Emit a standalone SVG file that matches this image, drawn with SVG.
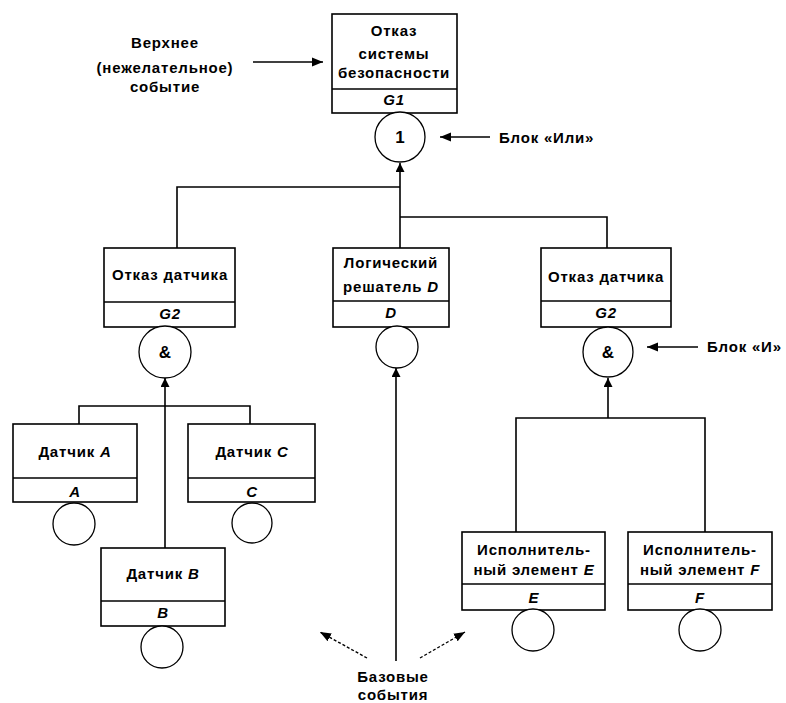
<svg xmlns="http://www.w3.org/2000/svg" width="786" height="703" viewBox="0 0 786 703">
<defs>
<style>
.box{fill:#fff;stroke:#000;stroke-width:1.6}
.gate{fill:#fff;stroke:#000;stroke-width:1.3}
.ln{fill:none;stroke:#000;stroke-width:1.6}
.dash{fill:none;stroke:#000;stroke-width:1.4;stroke-dasharray:3 2}
text{font-family:"Liberation Sans",Arial,sans-serif;font-size:15px;font-weight:bold;letter-spacing:0.8px;text-anchor:middle;fill:#000}
.it{font-style:italic}
.lft{text-anchor:start}
.sym{font-size:17px;letter-spacing:0}
</style>
<marker id="ah" viewBox="0 0 10 10" refX="10" refY="5" markerWidth="9" markerHeight="9" markerUnits="userSpaceOnUse" orient="auto">
<path d="M0,0 L10,5 L0,10 Z" fill="#000"/>
</marker>
<marker id="ahl" viewBox="0 0 10 10" refX="10" refY="5" markerWidth="11" markerHeight="11" markerUnits="userSpaceOnUse" orient="auto">
<path d="M0,1 L10,5 L0,9 Z" fill="#000"/>
</marker>
</defs>
<rect width="786" height="703" fill="#fff"/>

<g id="connectors">
<path class="ln" d="M177,248 V187 H400"/>
<path class="ln" d="M607,248 V217 H400"/>
<path class="ln" d="M400,248 V163" marker-end="url(#ah)"/>
<path class="ln" d="M79,424 V406 H250 V424"/>
<path class="ln" d="M165,548 V378" marker-end="url(#ah)"/>
<path class="ln" d="M396,661 V368" marker-end="url(#ah)"/>
<path class="ln" d="M516,532 V418 H705 V532"/>
<path class="ln" d="M608,418 V378" marker-end="url(#ah)"/>
<path class="ln" d="M253,62 H323" marker-end="url(#ahl)"/>
<path class="ln" d="M490,137 H440" marker-end="url(#ahl)"/>
<path class="ln" d="M698,347 H647" marker-end="url(#ahl)"/>
<path class="dash" d="M367,658 L320,632" marker-end="url(#ahl)"/>
<path class="dash" d="M420,658 L465,632" marker-end="url(#ahl)"/>
</g>

<g id="G1">
<rect class="box" x="332" y="14" width="125" height="99"/>
<line class="ln" x1="332" y1="89" x2="457" y2="89"/>
<text x="394" y="36">Отказ</text>
<text x="394" y="59">системы</text>
<text x="394" y="78">безопасности</text>
<text class="it" x="394" y="105">G1</text>
</g>
<g id="or-gate">
<circle class="gate" cx="400" cy="137" r="25"/>
<text class="sym" x="400" y="143">1</text>
</g>

<g id="G2-left">
<rect class="box" x="104" y="248" width="131" height="79"/>
<line class="ln" x1="104" y1="302" x2="235" y2="302"/>
<text x="170" y="280">Отказ датчика</text>
<text class="it" x="170" y="319">G2</text>
</g>
<g id="and-gate-left">
<circle class="gate" cx="165" cy="352" r="26"/>
<text class="sym" x="165" y="358">&amp;</text>
</g>

<g id="D">
<rect class="box" x="333" y="248" width="116" height="79"/>
<line class="ln" x1="333" y1="301" x2="449" y2="301"/>
<text x="391" y="268">Логический</text>
<text x="391" y="292">решатель <tspan class="it">D</tspan></text>
<text class="it" x="391" y="318">D</text>
<circle class="gate" cx="397" cy="347" r="21"/>
</g>

<g id="G2-right">
<rect class="box" x="541" y="248" width="130" height="79"/>
<line class="ln" x1="541" y1="301" x2="671" y2="301"/>
<text x="606" y="282">Отказ датчика</text>
<text class="it" x="606" y="318">G2</text>
</g>
<g id="and-gate-right">
<circle class="gate" cx="608" cy="352" r="25"/>
<text class="sym" x="608" y="358">&amp;</text>
</g>

<g id="A">
<rect class="box" x="13" y="424" width="124" height="78"/>
<line class="ln" x1="13" y1="478" x2="137" y2="478"/>
<text x="75" y="457">Датчик <tspan class="it">A</tspan></text>
<text class="it" x="75" y="497">A</text>
<circle class="gate" cx="74" cy="524" r="21"/>
</g>

<g id="C">
<rect class="box" x="188" y="424" width="127" height="78"/>
<line class="ln" x1="188" y1="478" x2="315" y2="478"/>
<text x="252" y="457">Датчик <tspan class="it">C</tspan></text>
<text class="it" x="252" y="497">C</text>
<circle class="gate" cx="252" cy="523" r="20"/>
</g>

<g id="B">
<rect class="box" x="101" y="548" width="124" height="78"/>
<line class="ln" x1="101" y1="601" x2="225" y2="601"/>
<text x="163" y="579">Датчик <tspan class="it">B</tspan></text>
<text class="it" x="163" y="618">B</text>
<circle class="gate" cx="162" cy="647" r="21"/>
</g>

<g id="E">
<rect class="box" x="462" y="532" width="143" height="78"/>
<line class="ln" x1="462" y1="584" x2="605" y2="584"/>
<text x="534" y="555">Исполнитель-</text>
<text x="534" y="575">ный элемент <tspan class="it">E</tspan></text>
<text class="it" x="534" y="603">E</text>
<circle class="gate" cx="533" cy="630" r="21"/>
</g>

<g id="F">
<rect class="box" x="628" y="532" width="144" height="78"/>
<line class="ln" x1="628" y1="584" x2="772" y2="584"/>
<text x="700" y="555">Исполнитель-</text>
<text x="700" y="575">ный элемент <tspan class="it">F</tspan></text>
<text class="it" x="700" y="603">F</text>
<circle class="gate" cx="700" cy="630" r="21"/>
</g>

<g id="labels">
<text x="165" y="48">Верхнее</text>
<text x="165" y="73">(нежелательное)</text>
<text x="165" y="92">событие</text>
<text class="lft" x="499" y="143">Блок «Или»</text>
<text class="lft" x="707" y="352">Блок «И»</text>
<text x="393" y="682">Базовые</text>
<text x="393" y="700">события</text>
</g>
</svg>
